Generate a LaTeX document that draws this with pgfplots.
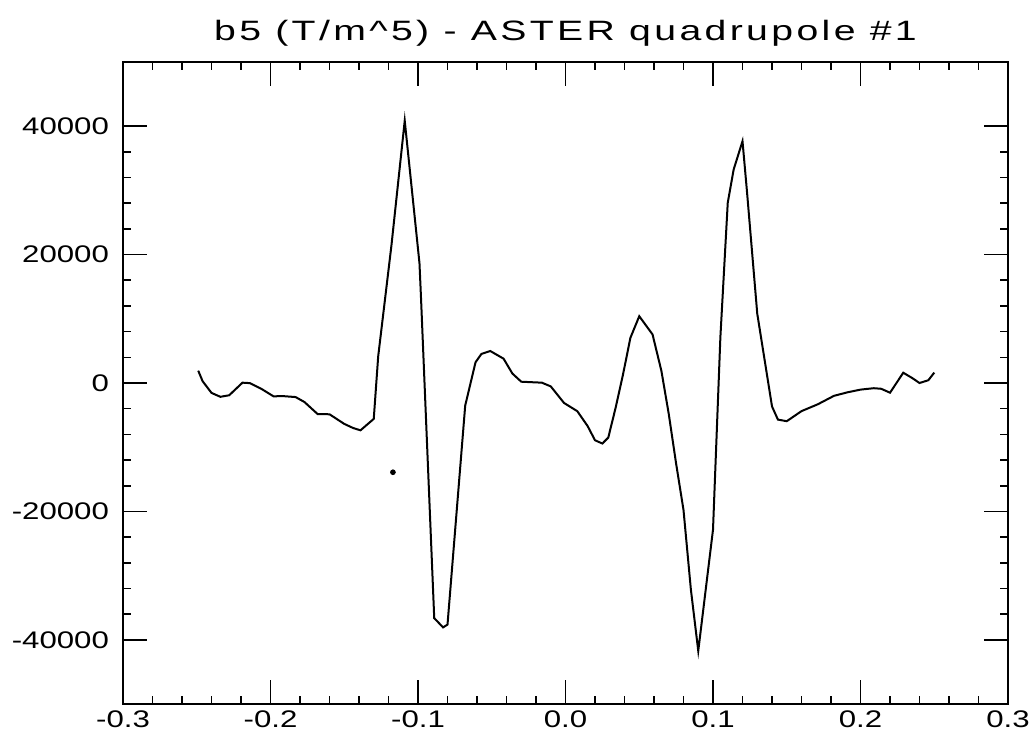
\documentclass[border=0pt]{standalone}
\usepackage{fontspec}
\setmainfont{Liberation Sans}
\newfontfamily\plotfont[FakeStretch=1.3]{Liberation Sans}
\newfontfamily\titlefont[FakeStretch=1.4,LetterSpace=12]{Liberation Sans}
\usepackage{pgfplots}
\pgfplotsset{compat=1.18}
\begin{document}
\begin{tikzpicture}
\begin{axis}[
  scale only axis,
  width=442.5pt, height=321pt,
  xmin=-0.3, xmax=0.3, ymin=-50000, ymax=50000,
  scaled y ticks=false, scaled x ticks=false,
  xtick={-0.3,-0.2,-0.1,0,0.1,0.2,0.3},
  xticklabels={-0.3,-0.2,-0.1,0.0,0.1,0.2,0.3},
  ytick={-40000,-20000,0,20000,40000},
  yticklabels={-40000,-20000,0,20000,40000},
  minor x tick num=4, minor y tick num=4,
  major tick length=12pt, minor tick length=4pt,
  tick style={line width=0.8pt, black},
  axis line style={line width=1pt},
  tick label style={font=\fontsize{12}{14}\plotfont},
  /pgf/number format/assume math mode=true,
  title={b5 (T/m\textasciicircum 5) - ASTER quadrupole \#1},
  title style={font=\fontsize{14}{16}\titlefont, anchor=base, at={(0.5,1)}, yshift=4.5pt},
  yticklabel style={xshift=-3.5pt},
]
\addplot[black, line width=1pt] coordinates {
(-0.249,1920) (-0.246,270) (-0.240,-1540) (-0.234,-2150) (-0.228,-1910)
(-0.219,50) (-0.214,-20) (-0.206,-940) (-0.198,-2070) (-0.191,-2050)
(-0.183,-2190) (-0.177,-2960) (-0.168,-4850) (-0.160,-4870) (-0.150,-6370)
(-0.144,-7010) (-0.139,-7370) (-0.130,-5590) (-0.127,4130) (-0.118,21450)
(-0.109,40850) (-0.099,18660) (-0.098,13480) (-0.089,-36620) (-0.083,-38070)
(-0.080,-37630) (-0.068,-3520) (-0.061,3230) (-0.057,4530) (-0.051,4980)
(-0.042,3790) (-0.036,1470) (-0.030,200) (-0.016,50) (-0.010,-530)
(-0.001,-3110) (0.008,-4390) (0.015,-6710) (0.020,-8920) (0.025,-9430)
(0.029,-8500) (0.034,-3840) (0.039,1340) (0.044,7040) (0.050,10400)
(0.059,7570) (0.065,1900) (0.070,-4820) (0.075,-12570) (0.080,-19780)
(0.085,-32170) (0.090,-41730) (0.100,-22840) (0.105,7140) (0.110,28080)
(0.114,33250) (0.120,37660) (0.123,29910) (0.130,10800) (0.140,-3650)
(0.144,-5700) (0.150,-5950) (0.160,-4380) (0.171,-3320) (0.182,-2000)
(0.191,-1460) (0.200,-1030) (0.209,-810) (0.214,-900) (0.220,-1510)
(0.229,1600) (0.235,780) (0.240,0) (0.246,430) (0.250,1620)
};
\addplot[only marks, mark=*, mark size=1.2pt, black] coordinates {(-0.117,-13900)};
\end{axis}
\path (current axis.south west) ++(-61.5pt,-22.5pt) coordinate (bbA);
\path (current axis.north east) ++(13pt,31pt) coordinate (bbB);
\pgfresetboundingbox
\path (bbA) rectangle (bbB);
\end{tikzpicture}
\end{document}
